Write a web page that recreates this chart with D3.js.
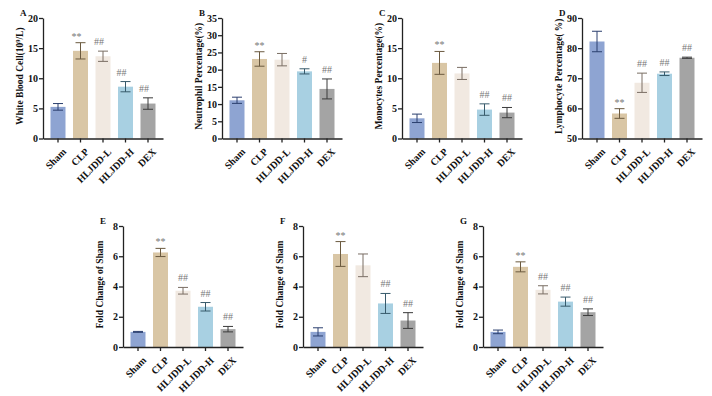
<!DOCTYPE html>
<html>
<head>
<meta charset="utf-8">
<script src="https://cdn.jsdelivr.net/npm/d3@7"></script>
<style>
  body { margin: 0; background: #fff; }
  text { font-family: "Liberation Serif", "Times New Roman", serif; }
</style>
</head>
<body>
<div id="chart"></div>
<script>
const groups = ["Sham", "CLP", "HLJDD-L", "HLJDD-H", "DEX"];

// A - white blood cell
const wbcMean = [5.25, 14.55, 13.65, 8.6, 5.8];
const wbcErr = [0.55, 1.35, 0.85, 0.85, 0.95];
const wbcSig = ["", "**", "##", "##", "##"];
// B - neutrophil
const neuMean = [11.1, 23.1, 22.9, 19.5, 14.4];
const neuErr = [0.9, 2.1, 1.8, 0.75, 2.9];
const neuSig = ["", "**", "", "#", "##"];
// C - monocytes
const monoMean = [3.35, 12.55, 10.8, 4.8, 4.3];
const monoErr = [0.7, 1.9, 1.0, 0.95, 0.85];
const monoSig = ["", "**", "", "##", "##"];
// D - lymphocyte
const lymMean = [82.2, 58.3, 68.5, 71.5, 76.8];
const lymErr = [3.4, 1.6, 3.2, 0.6, 0.2];
const lymSig = ["", "**", "##", "##", "##"];
// E, F, G - fold change
const eMean = [1.0, 6.25, 3.72, 2.66, 1.18];
const eErr = [0.03, 0.27, 0.22, 0.28, 0.18];
const eSig = ["", "**", "##", "##", "##"];
const fMean = [1.0, 6.15, 5.4, 2.88, 1.75];
const fErr = [0.27, 0.82, 0.75, 0.66, 0.52];
const fSig = ["", "**", "", "##", "##"];
const gMean = [1.0, 5.3, 3.78, 3.0, 2.3];
const gErr = [0.12, 0.33, 0.27, 0.3, 0.22];
const gSig = ["", "**", "##", "##", "##"];

const barColors = ["#8ea4d2", "#d9c6a5", "#f1e9e1", "#a8d0e2", "#a4a4a4"];
const errColors = ["#2b3f6e", "#6b5a3f", "#7a6e64", "#375a6b", "#3a3a3a"];

const width = 712, height = 396;
const topRow = [18, 138.5], botRow = [226, 347];

const panels = [
  { label: "A", x0: 43, rows: topRow, domain: [0, 20], ticks: [0, 5, 10, 15, 20],
    title: "White Blood Cell(10", sup: "9", titleEnd: "/L)", mean: wbcMean, err: wbcErr, sig: wbcSig, sigDx: -4 },
  { label: "B", x0: 222, rows: topRow, domain: [0, 35], ticks: [0, 5, 10, 15, 20, 25, 30, 35],
    title: "Neutrophil Percentage(%)", mean: neuMean, err: neuErr, sig: neuSig },
  { label: "C", x0: 402, rows: topRow, domain: [0, 20], ticks: [0, 5, 10, 15, 20],
    title: "Monocytes Percentage(%)", mean: monoMean, err: monoErr, sig: monoSig },
  { label: "D", x0: 582, rows: topRow, domain: [50, 90], ticks: [50, 60, 70, 80, 90],
    title: "Lymphocyte Percentage( %)", mean: lymMean, err: lymErr, sig: lymSig },
  { label: "E", x0: 123, rows: botRow, domain: [0, 8], ticks: [0, 2, 4, 6, 8],
    title: "Fold Change of Sham", mean: eMean, err: eErr, sig: eSig },
  { label: "F", x0: 303, rows: botRow, domain: [0, 8], ticks: [0, 2, 4, 6, 8],
    title: "Fold Change of Sham", mean: fMean, err: fErr, sig: fSig },
  { label: "G", x0: 483, rows: botRow, domain: [0, 8], ticks: [0, 2, 4, 6, 8],
    title: "Fold Change of Sham", mean: gMean, err: gErr, sig: gSig },
];

const svg = d3.select("#chart").append("svg")
  .attr("width", width).attr("height", height);
svg.append("rect").attr("width", width).attr("height", height).attr("fill", "#fff");

panels.forEach((p) => {
  const g = svg.append("g");
  const x = d3.scaleBand().domain(groups)
    .range([p.x0, p.x0 + 120]).paddingInner(1 / 3).paddingOuter(1 / 3);
  const y = d3.scaleLinear().domain(p.domain).range([p.rows[1], p.rows[0]]);
  const rows = groups.map((grp, i) => ({ grp, i, m: p.mean[i], e: p.err[i], s: p.sig[i] }));

  // bars
  g.selectAll("rect.bar").data(rows).enter().append("rect")
    .attr("class", "bar")
    .attr("x", (d) => x(d.grp))
    .attr("width", x.bandwidth())
    .attr("y", (d) => y(d.m))
    .attr("height", (d) => y(p.domain[0]) - y(d.m))
    .attr("fill", (d) => barColors[d.i]);

  // error bars
  const cx = (d) => x(d.grp) + x.bandwidth() / 2;
  const eb = g.selectAll("g.err").data(rows).enter().append("g")
    .attr("stroke", (d) => errColors[d.i]).attr("stroke-width", 1);
  eb.append("line").attr("x1", cx).attr("x2", cx)
    .attr("y1", (d) => y(d.m - d.e)).attr("y2", (d) => y(d.m + d.e));
  eb.append("line").attr("x1", (d) => cx(d) - 5).attr("x2", (d) => cx(d) + 5)
    .attr("y1", (d) => y(d.m + d.e)).attr("y2", (d) => y(d.m + d.e));
  eb.append("line").attr("x1", (d) => cx(d) - 5).attr("x2", (d) => cx(d) + 5)
    .attr("y1", (d) => y(d.m - d.e)).attr("y2", (d) => y(d.m - d.e));

  // significance marks
  g.selectAll("text.sig").data(rows.filter((d) => d.s)).enter().append("text")
    .attr("class", "sig")
    .attr("x", (d) => cx(d) + (p.sigDx || 0))
    .attr("y", (d) => y(d.m + d.e) - (d.s === "**" ? 3 : 6))
    .attr("text-anchor", "middle")
    .attr("font-size", 10)
    .attr("fill", "#777")
    .text((d) => d.s);

  // y axis
  const ya = g.append("g").attr("transform", `translate(${p.x0},0)`)
    .call(d3.axisLeft(y).tickValues(p.ticks).tickSize(4).tickSizeOuter(0).tickPadding(1));
  // x axis
  const xa = g.append("g").attr("transform", `translate(0,${p.rows[1]})`)
    .call(d3.axisBottom(x).tickSize(4).tickSizeOuter(0));
  xa.selectAll("text")
    .attr("text-anchor", "end")
    .attr("dy", 0)
    .attr("transform", "translate(4,9) rotate(-45)");
  [ya, xa].forEach((a) => {
    a.selectAll("path, line").attr("stroke", "#222").attr("stroke-width", 1.3);
    a.selectAll("text").attr("font-size", 10).attr("font-weight", "bold")
      .attr("fill", "#111").style("font-family", '"Liberation Serif", serif');
  });

  // y title
  const midY = (p.rows[0] + p.rows[1]) / 2 - 2;
  const tt = g.append("text")
    .attr("transform", `translate(${p.x0 - 20},${midY}) rotate(-90)`)
    .attr("text-anchor", "middle")
    .attr("font-size", 9.5).attr("font-weight", "bold").attr("fill", "#111")
    .text(p.title);
  if (p.sup) {
    tt.append("tspan").attr("dy", -3).attr("font-size", 6.5).text(p.sup);
    tt.append("tspan").attr("dy", 3).text(p.titleEnd);
  }

  // panel label
  g.append("text")
    .attr("x", p.x0 - 23).attr("y", p.rows[0] - 2)
    .attr("font-size", 9).attr("font-weight", "bold").attr("fill", "#111")
    .text(p.label);
});
</script>
</body>
</html>
